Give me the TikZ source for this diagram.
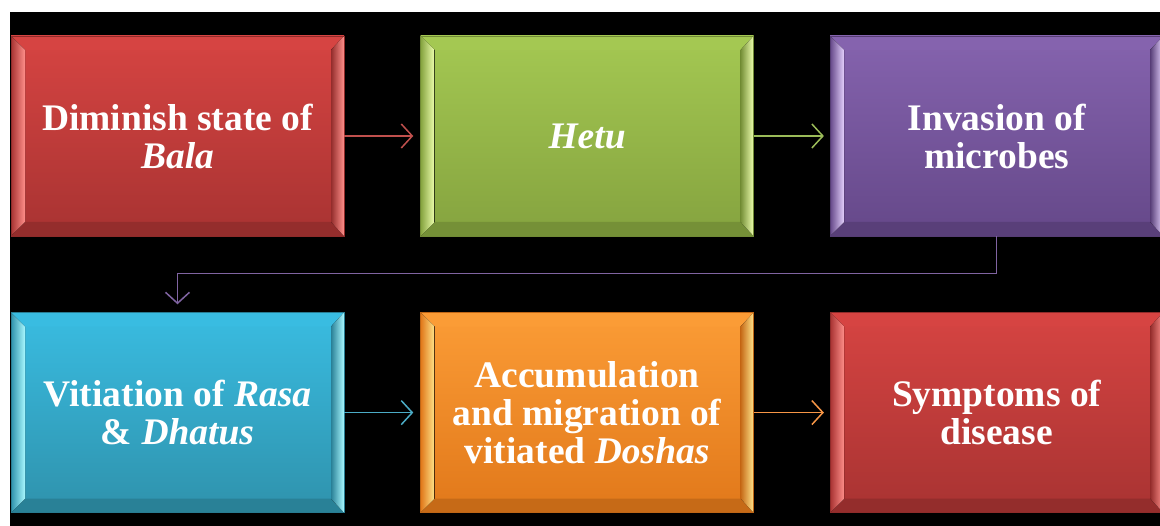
\documentclass[tikz,border=0pt]{standalone}
\usepackage{fontspec}
\setmainfont{Liberation Serif}
\usetikzlibrary{positioning,arrows.meta}

\definecolor{redtop}{HTML}{D64442}
\definecolor{redbot}{HTML}{A83332}
\definecolor{rededge}{HTML}{FF8F8A}
\definecolor{greentop}{HTML}{A4C852}
\definecolor{greenbot}{HTML}{85A33F}
\definecolor{greenedge}{HTML}{EEFFAE}
\definecolor{purpletop}{HTML}{8563AE}
\definecolor{purplebot}{HTML}{654889}
\definecolor{purpleedge}{HTML}{E6D2FF}
\definecolor{bluetop}{HTML}{39BCE1}
\definecolor{bluebot}{HTML}{2F92AC}
\definecolor{blueedge}{HTML}{A8F8FF}
\definecolor{orangetop}{HTML}{FB9C36}
\definecolor{orangebot}{HTML}{E1781A}
\definecolor{orangeedge}{HTML}{FFE48A}
\definecolor{redline}{HTML}{C0504D}
\definecolor{greenline}{HTML}{9BBB59}
\definecolor{purpleline}{HTML}{8064A2}
\definecolor{blueline}{HTML}{4BACC6}
\definecolor{orangeline}{HTML}{F79646}

\tikzset{
  box/.style n args={3}{draw=#2!85!black, line width=0.6pt,
    top color=#1, bottom color=#2,
    minimum width=333pt, minimum height=200pt, inner sep=0pt,
    align=center, text=white, font=\bfseries\fontsize{37.5}{38}\selectfont,
    path picture={
      % bevel strips
      \fill[#1] (path picture bounding box.north west) -- ++(14pt,-14pt)
        -- ([shift={(-13pt,-14pt)}]path picture bounding box.north east)
        -- (path picture bounding box.north east) -- cycle;
      \fill[#2!88!black] (path picture bounding box.south west) -- ++(14pt,14pt)
        -- ([shift={(-13pt,14pt)}]path picture bounding box.south east)
        -- (path picture bounding box.south east) -- cycle;
      \fill[left color=#2, right color=#3] (path picture bounding box.north west)
        -- ++(14pt,-14pt) -- ([shift={(14pt,14pt)}]path picture bounding box.south west)
        -- (path picture bounding box.south west) -- cycle;
      \fill[left color=#2!88!black, right color=#3] (path picture bounding box.north east)
        -- ++(-13pt,-14pt) -- ([shift={(-13pt,14pt)}]path picture bounding box.south east)
        -- (path picture bounding box.south east) -- cycle;
    }},
  link/.style={line width=1.5pt, -{Straight Barb[length=11pt,width=24pt,line width=1.5pt]}},
}

\begin{document}
\begin{tikzpicture}[x=1pt,y=-1pt,node distance=76pt]
\useasboundingbox (0,0) rectangle (1160,526);
\fill[white] (0,0) rectangle (1160,526);
\fill[black] (10,12) rectangle (1160,526);

\node[box={redtop}{redbot}{rededge}] (bala) at (177.5,136) {Diminish state of\\\textit{Bala}};
\node[box={greentop}{greenbot}{greenedge}, right=of bala] (hetu) {\textit{Hetu}};
\node[box={purpletop}{purplebot}{purpleedge}, right=of hetu] (microbes) {Invasion of\\microbes};
\node[box={bluetop}{bluebot}{blueedge}, below=of bala] (rasa) {Vitiation of \textit{Rasa}\\\& \textit{Dhatus}};
\node[box={orangetop}{orangebot}{orangeedge}, right=of rasa] (doshas) {Accumulation\\and migration of\\vitiated \textit{Doshas}};
\node[box={redtop}{redbot}{rededge}, right=of doshas] (symptoms) {Symptoms of\\disease};

\draw[link, redline, shorten >=7pt] (bala) -- (hetu);
\draw[link, greenline, shorten >=6pt] (hetu) -- (microbes);
\draw[link, purpleline, shorten >=8pt] (microbes.south) -- ++(0,37) -| (rasa.north);
\draw[link, blueline, shorten >=7pt] (rasa) -- (doshas);
\draw[link, orangeline, shorten >=6pt] (doshas) -- (symptoms);
\end{tikzpicture}
\end{document}
